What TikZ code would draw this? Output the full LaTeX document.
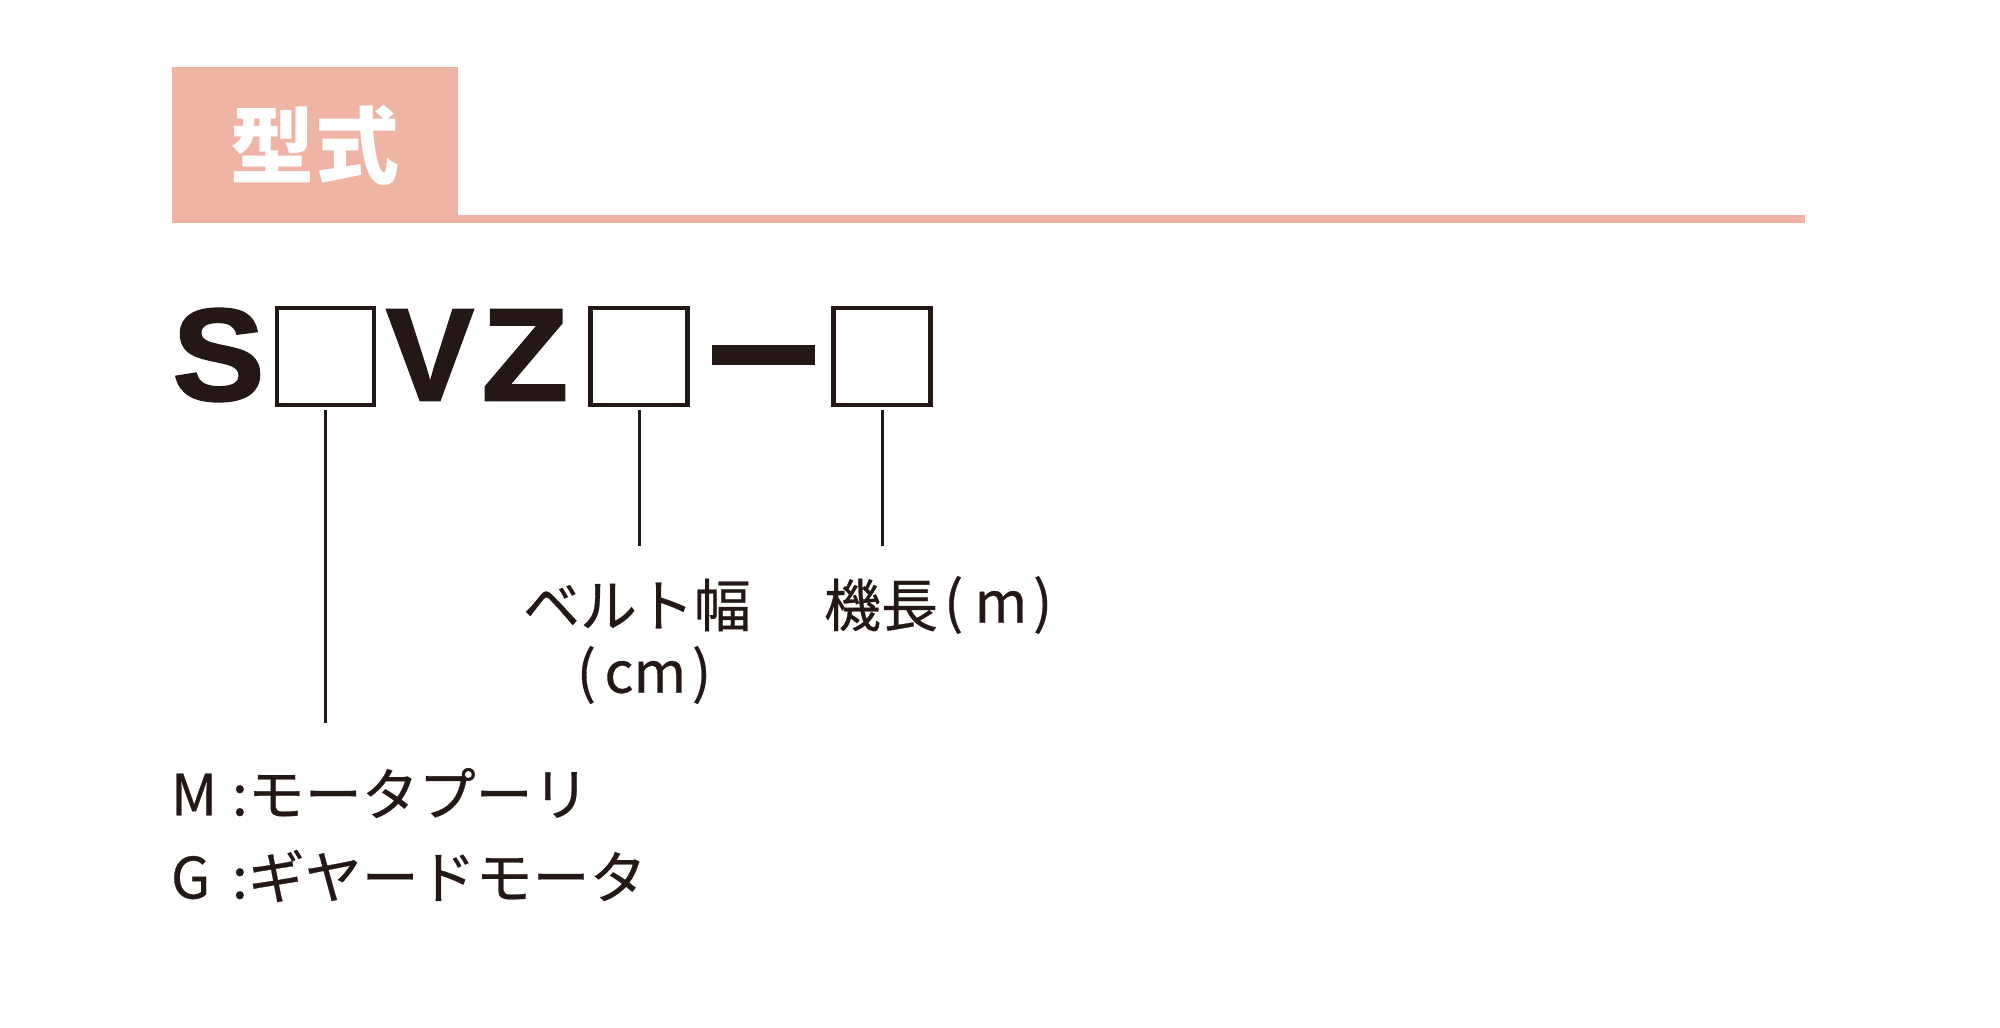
\documentclass[tikz,border=0pt]{standalone}
\usepackage{fontspec}
\setmainfont{Liberation Sans}
\newfontfamily\jpfont[FakeBold=0.5]{Noto Sans CJK JP}
\newfontfamily\titlefont{Noto Sans CJK JP}
\newfontfamily\heavyfont[FakeBold=1.8]{Liberation Sans Bold}
\usetikzlibrary{positioning}
\definecolor{headpink}{RGB}{239,180,164}
\definecolor{inkblack}{RGB}{35,24,21}

\begin{document}
\begin{tikzpicture}[x=0.01cm, y=-0.01cm,
		every node/.style={inner sep=0pt, outer sep=0pt, text=inkblack},
		codechar/.style={font=\heavyfont\fontsize{37.3}{40}\selectfont},
		slot/.style={draw=inkblack, line width=1.22pt, minimum size=0.97cm},
		leader/.style={draw=inkblack, line width=0.85pt},
		lbl/.style={font=\jpfont\fontsize{16.2}{19.4}\selectfont}]
		
		\useasboundingbox (0,0) rectangle (2000,1028);
		
		% heading
		\node [fill=headpink, minimum width=2.86cm, minimum height=1.56cm, text=white,
		font=\titlefont\bfseries\fontsize{23.9}{26}\selectfont] (title) at (315,145) {型式};
		\fill [headpink] (title.south east) rectangle (1805,215);
		
		% model code
		\node [codechar, xscale=1.05] (code-S) at (218.5,355) {S};
		\node [codechar] (code-V) at (430,355) {V};
		\node [codechar, xscale=1.08] (code-Z) at (525,355) {Z};
		\node [fill=inkblack, minimum width=1.03cm, minimum height=0.2cm] (dash) at (763.5,355) {};
		
		\foreach \n/\x in {1/325.5,2/639,3/882}
		\node [slot] (slot-\n) at (\x,356.5) {};
		
		\foreach \n/\y in {1/724,2/547,3/547}
		\path (slot-\n.south) ++(0,{\y-406.5}) coordinate (end-\n);
		
		\foreach \n in {1,...,3}
		\draw [leader] ([yshift=-0.05cm]slot-\n.south) -- (end-\n);
		
		% labels
		\node [lbl] (belt) at (637,605) {ベルト幅};
		\node [lbl] (belt-unit) at (644,675) {(\hspace{.15em}cm\hspace{.1em})};
		\node [lbl] (length) at (881,605) {機長};
		\node [lbl, right=0.06cm of length] (length-unit) {(\hspace{.2em}m\hspace{.1em})};
		
		\node [lbl, anchor=west] (motor) at (171,793) {\makebox[1.07em][l]{M}:モータプーリ};
		\node [lbl, anchor=west] (gear) at (171,876) {\makebox[1.07em][l]{G}:ギヤードモータ};
		
\end{tikzpicture}
\end{document}
